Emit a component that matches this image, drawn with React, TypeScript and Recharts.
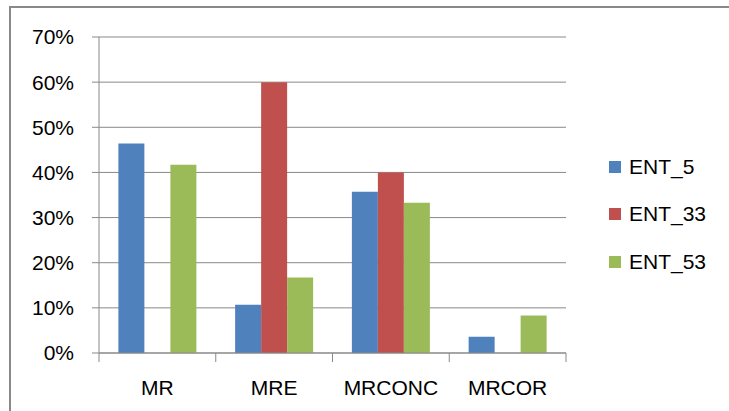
import React from 'react';
import { BarChart, Bar, XAxis, YAxis, CartesianGrid, Legend } from 'recharts';

const categories = ['MR', 'MRE', 'MRCONC', 'MRCOR'];
const ent5 = [0.464, 0.107, 0.357, 0.036];
const ent33 = [0, 0.6, 0.4, 0];
const ent53 = [0.417, 0.167, 0.333, 0.083];
const yTicks = [0, 0.1, 0.2, 0.3, 0.4, 0.5, 0.6, 0.7];
const seriesNames = ['ENT_5', 'ENT_33', 'ENT_53'];
const seriesColors = ['#4F81BD', '#C0504D', '#9BBB59'];

const seriesValues = [ent5, ent33, ent53];
const data = categories.map((c, i) => {
  const row: Record<string, string | number> = { name: c };
  seriesNames.forEach((s, k) => {
    row[s] = seriesValues[k][i];
  });
  return row;
});

const FONT = '"Liberation Sans", Arial, sans-serif';
const GRAY = '#898989';
const TEXT = '#000000';

const renderLegend = () => (
  <div style={{ fontFamily: FONT, fontSize: 21, color: TEXT }}>
    {seriesNames.map((n, i) => (
      <div key={n} style={{ display: 'flex', alignItems: 'center', height: 47.5 }}>
        <span
          style={{
            display: 'inline-block',
            width: 12,
            height: 12,
            background: seriesColors[i],
            marginRight: 8,
          }}
        />
        <span>{n}</span>
      </div>
    ))}
  </div>
);

const CategoryTick = (props: any) => {
  const { x, y, payload, index } = props;
  const half = payload && typeof payload.offset === 'number' ? payload.offset : 0;
  const isLast = index === categories.length - 1;
  return (
    <g>
      <line x1={x - half} x2={x - half} y1={y} y2={y + 9} stroke={GRAY} />
      {isLast && <line x1={x + half} x2={x + half} y1={y} y2={y + 9} stroke={GRAY} />}
      <text
        x={x}
        y={y + 42}
        textAnchor="middle"
        fontFamily={FONT}
        fontSize={21}
        fill={TEXT}
      >
        {payload.value}
      </text>
    </g>
  );
};

export default function App() {
  return (
    <div style={{ position: 'absolute', left: 0, top: 0, width: 729, height: 411, overflow: 'hidden', background: '#fff' }}>
      <div
        style={{
          position: 'absolute',
          left: 9,
          top: 6,
          width: 740,
          height: 420,
          borderLeft: `2px solid ${GRAY}`,
          borderTop: `2px solid ${GRAY}`,
        }}
      />
      <div style={{ position: 'absolute', left: 0, top: 0 }}>
        <BarChart
          width={729}
          height={411}
          data={data}
          margin={{ top: 37, right: 163, bottom: 0, left: 0 }}
          barCategoryGap="16.6%"
          barGap={0}
        >
          <CartesianGrid horizontal vertical={false} stroke={GRAY} strokeWidth={1} />
          <XAxis
            dataKey="name"
            type="category"
            height={58}
            axisLine={{ stroke: GRAY }}
            tickLine={false}
            tickSize={0}
            tickMargin={0}
            interval={0}
            tick={CategoryTick}
          />
          <YAxis
            width={99}
            domain={[0, 0.7]}
            ticks={yTicks}
            interval={0}
            tickFormatter={(v: number) => `${Math.round(v * 100)}%`}
            tickSize={7}
            tickMargin={18}
            axisLine={{ stroke: GRAY }}
            tickLine={{ stroke: GRAY }}
            tick={{ fontFamily: FONT, fontSize: 21, fill: TEXT }}
          />
          <Legend
            layout="horizontal"
            align="center"
            verticalAlign="middle"
            width={120}
            content={renderLegend}
            wrapperStyle={{ left: 609, top: 143, width: 120 }}
          />
          {seriesNames.map((s, i) => (
            <Bar
              key={s}
              dataKey={s}
              fill={seriesColors[i]}
              isAnimationActive={false}
            />
          ))}
        </BarChart>
      </div>
    </div>
  );
}
